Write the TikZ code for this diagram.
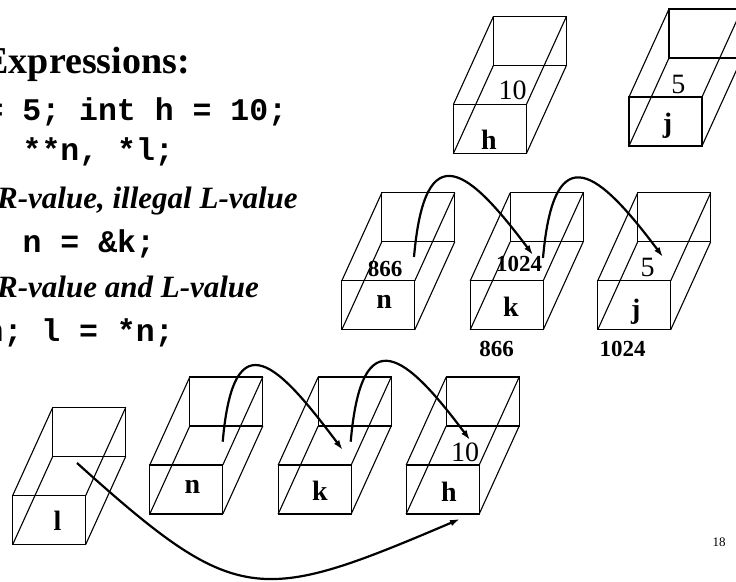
\documentclass[tikz,border=0pt]{standalone}
\usepackage{fontspec}
\setmainfont{Liberation Serif}
\setmonofont{Liberation Mono}
\usetikzlibrary{arrows.meta, calc}

\begin{document}
\begin{tikzpicture}[x=1pt, y=1pt, >={Latex[length=10pt,width=6.5pt]}]
  % Styles
  \tikzstyle{cell} = [rectangle, draw, line width=1.1pt, minimum width=73pt, minimum height=49pt, inner sep=0pt, outer sep=0pt]
  \tikzstyle{backface} = [draw, line width=1.1pt]
  \tikzstyle{pointer} = [draw, ->, line width=2.2pt]
  \tikzstyle{idtext} = [font=\fontsize{28}{28}\selectfont\bfseries, anchor=base, inner sep=0pt]
  \tikzstyle{valtext} = [font=\fontsize{28}{28}\selectfont, anchor=base, inner sep=0pt]
  \tikzstyle{addrtext} = [font=\fontsize{23}{23}\selectfont\bfseries, anchor=base, inner sep=0pt]
  \tikzstyle{codeline} = [font=\fontsize{31.5}{31.5}\selectfont\ttfamily\bfseries, anchor=base west, inner sep=0pt]
  \tikzstyle{noteline} = [font=\fontsize{31}{31}\selectfont\bfseries\itshape, anchor=base west, inner sep=0pt]

  \useasboundingbox (0,0) rectangle (736,581);
  \clip (0,0) rectangle (736,581);

  % Left column
  \node[font=\fontsize{38}{38}\selectfont\bfseries, anchor=base east, inner sep=0pt] (title) at (190,507) {Expressions:};
  \node[codeline] (decl1) at (-15.5,460) {= 5; int h = 10;};
  \node[codeline] (decl2) at (22.5,420) {**n, *l;};
  \node[noteline] (rule1) at (-3,372) {R-value, illegal L-value};
  \node[codeline] (assign1) at (22.5,328) {n = \&k;};
  \node[noteline] (rule2) at (-3,283) {R-value and L-value};
  \node[codeline] (assign2) at (-15.5,239) {n; l = *n;};

  % Cells (front faces)
  \node[cell] (h1) at (490,452.2) {};
  \node[cell] (j1) at (665.5,459.5) {};
  \node[cell] (n2) at (378.3,275.7) {};
  \node[cell] (k2) at (506.7,275.7) {};
  \node[cell] (j2) at (634.2,275.7) {};
  \node[cell] (l3) at (49.3,61.2) {};
  \node[cell] (n3) at (186.3,91.5) {};
  \node[cell] (k3) at (314.7,91.5) {};
  \node[cell] (h3) at (442.7,91.5) {};

  % Cells (back faces and edges)
  \foreach \cellname in {h1,j1,n2,k2,j2,l3,n3,k3,h3} {
    \draw[backface] ($(\cellname.south west)+(40,88)$) rectangle ($(\cellname.north east)+(40,88)$);
    \draw[backface] (\cellname.north west) -- +(40,88) (\cellname.north east) -- +(40,88)
                (\cellname.south west) -- +(40,88) (\cellname.south east) -- +(40,88);
  }

  % Names and values
  \node[idtext] (h1name) at (489,431) {h};
  \node[valtext] (h1val) at (512.5,481) {10};
  \node[idtext] (j1name) at (667.5,448) {j};
  \node[valtext] (j1val) at (678.3,487.7) {5};

  \node[idtext] (n2name) at (384.2,272.7) {n};
  \node[addrtext] (n2val) at (385,304.3) {866};
  \node[idtext] (k2name) at (510.8,264.3) {k};
  \node[addrtext] (k2val) at (519.2,309.3) {1024};
  \node[idtext] (j2name) at (635.8,262.4) {j};
  \node[valtext] (j2val) at (647.5,304.3) {5};
  \node[addrtext] (k2addr) at (496.7,224.3) {866};
  \node[addrtext] (j2addr) at (622.5,224.3) {1024};

  \node[idtext] (l3name) at (57.5,51) {l};
  \node[idtext] (n3name) at (192.5,87.7) {n};
  \node[idtext] (k3name) at (320,81) {k};
  \node[idtext] (h3name) at (449,79.3) {h};
  \node[valtext] (h3val) at (465,119.3) {10};

  \node[font=\fontsize{13}{13}\selectfont, anchor=base, inner sep=0pt] (page) at (719,34.3) {18};

  % Pointers
  \coordinate (n2out) at (414,324);
  \coordinate (k2in) at (533,326);
  \coordinate (k2out) at (543,323);
  \coordinate (j2in) at (663,324);
  \coordinate (n3out) at (222.7,139.3);
  \coordinate (k3in) at (342.7,131);
  \coordinate (k3out) at (350.7,139.3);
  \coordinate (h3in) at (470,141);
  \coordinate (l3out) at (77,118);
  \coordinate (h3below) at (460,62);

  \draw[pointer] (n2out) .. controls +(11,126) and +(-63,84) .. (k2in);
  \draw[pointer] (k2out) .. controls +(11,126) and +(-63,84) .. (j2in);
  \draw[pointer] (n3out) .. controls +(11,126) and +(-63,84) .. (k3in);
  \draw[pointer] (k3out) .. controls +(11,126) and +(-63,84) .. (h3in);
  \draw[pointer] (l3out) .. controls (237,-26) and (258,-24) .. (h3below);

\end{tikzpicture}
\end{document}
